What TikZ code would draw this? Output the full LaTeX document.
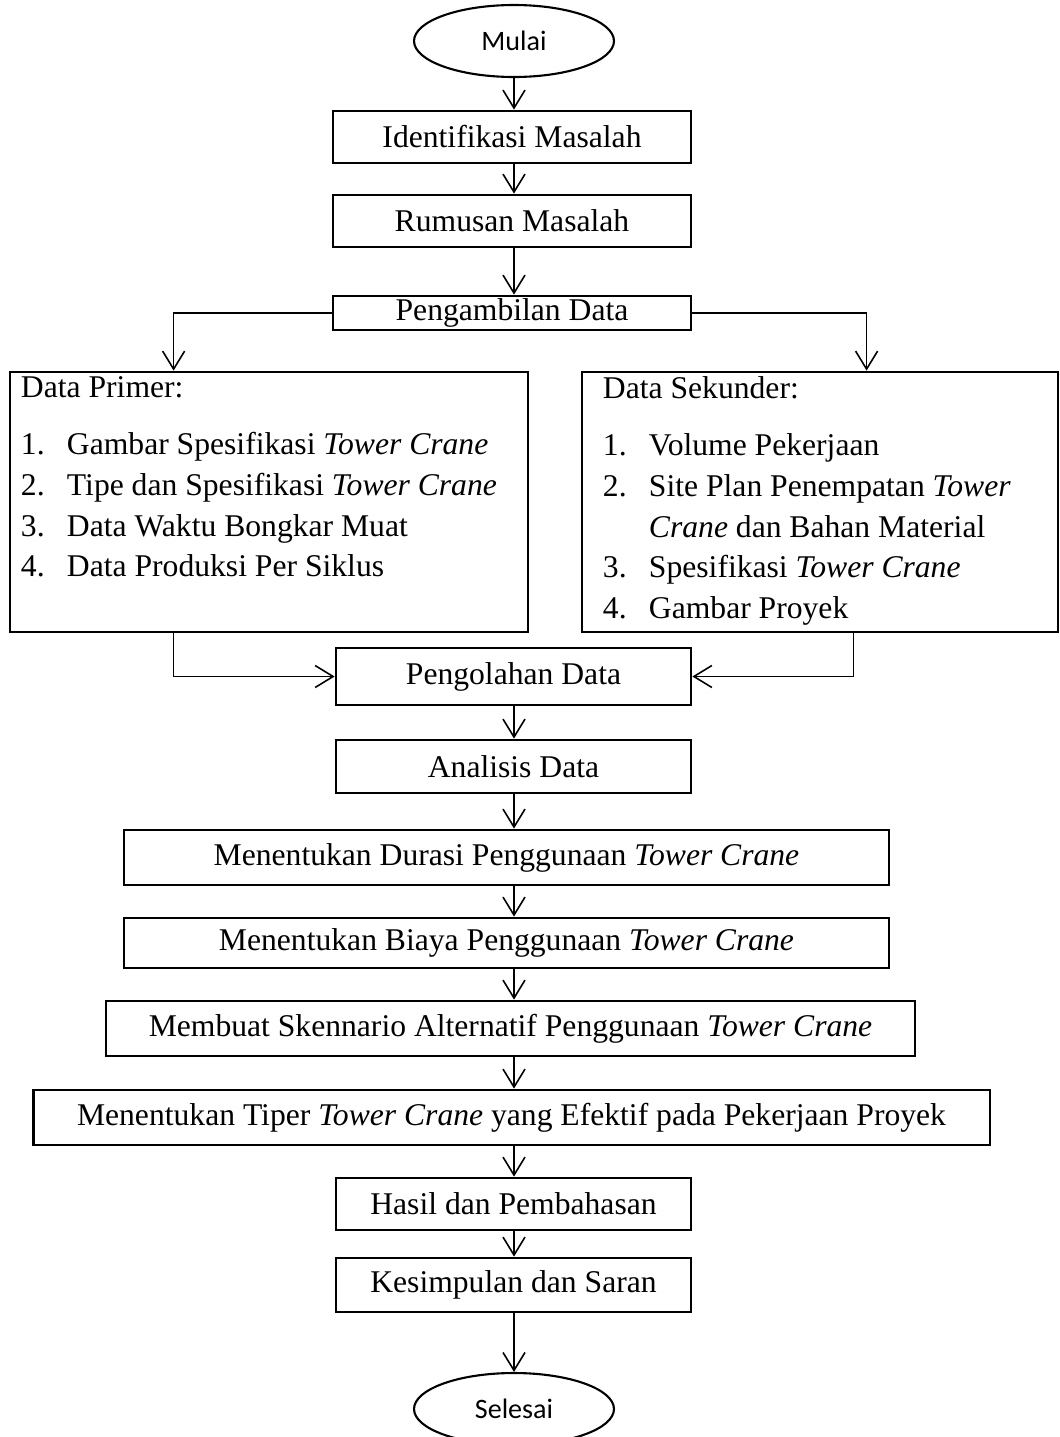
\documentclass[tikz,border=0pt]{standalone}
\usepackage{fontspec}
\setmainfont{Liberation Serif}
\newfontfamily\calibri{Carlito}
\usetikzlibrary{arrows.meta, positioning, shapes.geometric, calc}

\begin{document}
\begin{tikzpicture}[
        x=0.02cm, y=-0.02cm,
        box/.style={rectangle, draw=black, line width=1.6pt, inner sep=0pt, font=\fontsize{18}{22}\selectfont},
        term/.style={ellipse, draw=black, line width=1.2pt, minimum width=4cm, minimum height=1.44cm, inner sep=0pt, font=\calibri\fontsize{16}{19}\selectfont},
        listtext/.style={anchor=north west, inner sep=0pt, align=left, font=\fontsize{18}{23.2}\selectfont},
        arrow/.style={-{Straight Barb[length=0.36cm, width=0.44cm]}, line width=0.9pt}
    ]
    \useasboundingbox (0,0) rectangle (1059,1437);
    \newcommand{\num}[1]{\makebox[0.92cm][l]{#1}}

    % alur utama
    \node[term] (mulai) at (514,41) {Mulai};
    \node[box, minimum width=7.16cm, minimum height=1.04cm] (ident) at (512,137) {Identifikasi Masalah};
    \node[box, minimum width=7.16cm, minimum height=1.04cm] (rumus) at (512,221) {Rumusan Masalah};
    \node[box, minimum width=7.16cm, minimum height=0.68cm] (ambil) at (512,313) {Pengambilan Data};

    % data primer dan sekunder
    \node[box, minimum width=10.36cm, minimum height=5.2cm] (primer) at (269,502) {};
    \node[listtext] (primertxt) at ([xshift=0.24cm, yshift=-0.12cm]primer.north west)
        {Data Primer:\\[0.32cm]
         \num{1.}Gambar Spesifikasi \textit{Tower Crane}\\
         \num{2.}Tipe dan Spesifikasi \textit{Tower Crane}\\
         \num{3.}Data Waktu Bongkar Muat\\
         \num{4.}Data Produksi Per Siklus};
    \node[box, minimum width=9.52cm, minimum height=5.2cm] (sekunder) at (820,502) {};
    \node[listtext] (sekundertxt) at ([xshift=0.44cm, yshift=-0.12cm]sekunder.north west)
        {Data Sekunder:\\[0.32cm]
         \num{1.}Volume Pekerjaan\\
         \num{2.}Site Plan Penempatan \textit{Tower}\\
         \num{}\textit{Crane} dan Bahan Material\\
         \num{3.}Spesifikasi \textit{Tower Crane}\\
         \num{4.}Gambar Proyek};

    % pengolahan sampai selesai
    \node[box, minimum width=7.1cm, minimum height=1.14cm] (olah) at (513.5,676.5) {Pengolahan Data};
    \node[box, minimum width=7.1cm, minimum height=1.06cm] (anal) at (513.5,766.5) {Analisis Data};
    \node[box, minimum width=15.3cm, minimum height=1.1cm] (durasi) at (506.5,857.5) {Menentukan Durasi Penggunaan \textit{Tower Crane}};
    \node[box, minimum width=15.3cm, minimum height=1.0cm] (biaya) at (506.5,943) {Menentukan Biaya Penggunaan \textit{Tower Crane}};
    \node[box, minimum width=16.18cm, minimum height=1.1cm] (skenario) at (510.5,1028.5) {Membuat Skennario Alternatif Penggunaan \textit{Tower Crane}};
    \node[box, minimum width=19.14cm, minimum height=1.1cm] (tiper) at (511.5,1117.5) {Menentukan Tiper \textit{Tower Crane} yang Efektif pada Pekerjaan Proyek};
    \node[box, minimum width=7.1cm, minimum height=1.04cm] (hasil) at (513.5,1204) {Hasil dan Pembahasan};
    \node[box, minimum width=7.1cm, minimum height=1.08cm] (simpul) at (513.5,1285) {Kesimpulan dan Saran};
    \node[term] (selesai) at (514,1409) {Selesai};

    % panah
    \coordinate (spine) at (514,0);
    \foreach \a/\b in {mulai/ident, ident/rumus, rumus/ambil, olah/anal, anal/durasi, durasi/biaya,
                       biaya/skenario, skenario/tiper, tiper/hasil, hasil/simpul, simpul/selesai}
        \draw[arrow] (\a.south -| spine) -- (\b.north -| spine);
    \draw[arrow] (ambil.west) -| ([xshift=3.3cm]primer.north west);
    \draw[arrow] (ambil.east) -| ([xshift=5.72cm]sekunder.north west);
    \draw[arrow] ([xshift=3.3cm]primer.south west) |- (olah.west);
    \draw[arrow] ([xshift=5.46cm]sekunder.south west) |- (olah.east);

\end{tikzpicture}
\end{document}
